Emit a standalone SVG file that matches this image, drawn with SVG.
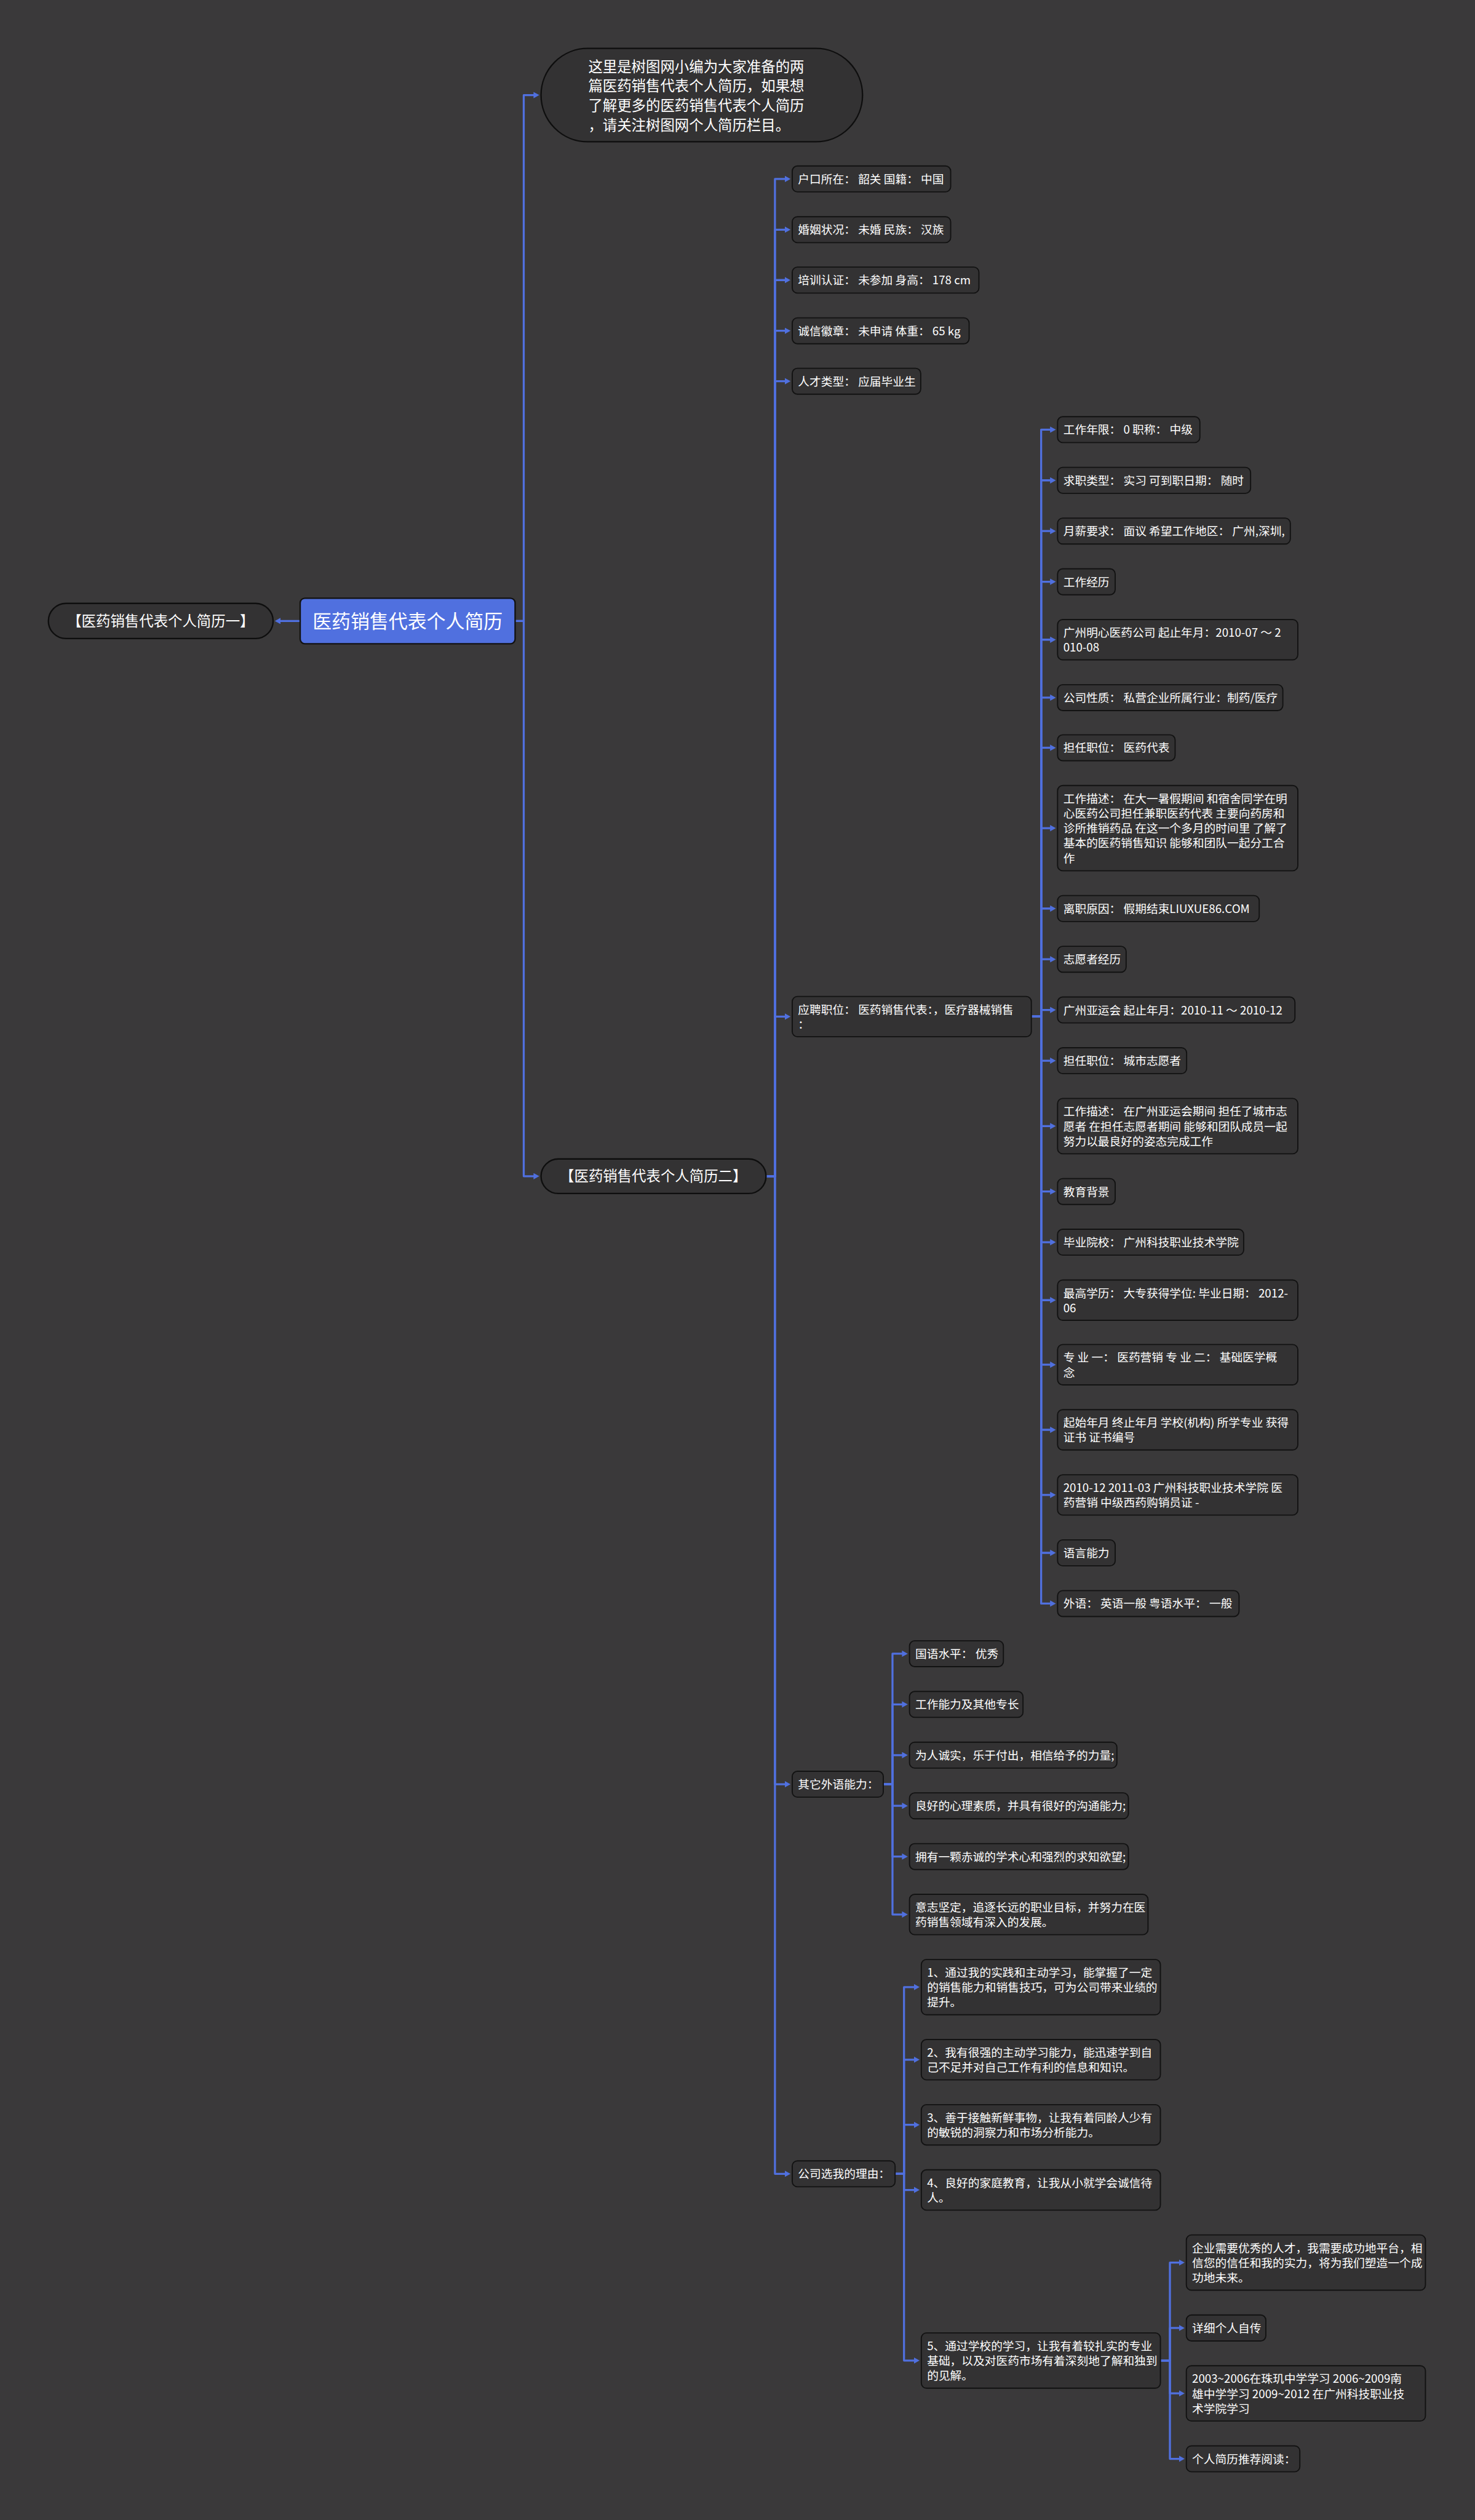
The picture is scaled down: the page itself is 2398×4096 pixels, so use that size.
<svg xmlns="http://www.w3.org/2000/svg" width="2398" height="4096" viewBox="0 0 2398 4096">
<defs>
<style>
.bg{fill:#3a393a}
.n{fill:#333233;stroke:#121212;stroke-width:2}
.r{fill:#5070df;stroke:#121212;stroke-width:2.5}
.p{fill:#333233;stroke:#0e0e0e;stroke-width:2.5}
.t{font-family:"Noto Sans CJK SC","Noto Sans CJK JP","DejaVu Sans",sans-serif;font-size:20px;fill:#ffffff}
.t25{font-size:25px}
.t33{font-size:33px}
.m{text-anchor:middle}
.c{fill:none;stroke:#5070df;stroke-width:3.5;stroke-linejoin:round;marker-end:url(#ah)}
</style>
<marker id="ah" markerUnits="userSpaceOnUse" viewBox="0 0 10 11" markerWidth="10" markerHeight="11" refX="4" refY="5.5" orient="auto">
<path d="M0,0 L10,5.5 L0,11 Z" fill="#5070df"/>
</marker>
</defs>
<rect class="bg" x="0" y="0" width="2398" height="4096"/>
<g transform="scale(0.93672)">

<g id="connectors">
<path class="c" d="M521,1077.5 H483"/>
<path class="c" d="M894,1077.5 H909 V165 H930"/>
<path class="c" d="M894,1077.5 H909 V2041 H930"/>

<path class="c" d="M1329.5,2041 H1345 V310.5 H1366"/>
<path class="c" d="M1329.5,2041 H1345 V398.5 H1366"/>
<path class="c" d="M1329.5,2041 H1345 V486 H1366"/>
<path class="c" d="M1329.5,2041 H1345 V574 H1366"/>
<path class="c" d="M1329.5,2041 H1345 V661.5 H1366"/>
<path class="c" d="M1329.5,2041 H1345 V1764 H1366"/>
<path class="c" d="M1329.5,2041 H1345 V3096 H1366"/>
<path class="c" d="M1329.5,2041 H1345 V3772 H1366"/>

<path class="c" d="M1790,1764 H1807 V745.5 H1826.5"/>
<path class="c" d="M1790,1764 H1807 V833.5 H1826.5"/>
<path class="c" d="M1790,1764 H1807 V921.5 H1826.5"/>
<path class="c" d="M1790,1764 H1807 V1009.5 H1826.5"/>
<path class="c" d="M1790,1764 H1807 V1110 H1826.5"/>
<path class="c" d="M1790,1764 H1807 V1210.5 H1826.5"/>
<path class="c" d="M1790,1764 H1807 V1297.5 H1826.5"/>
<path class="c" d="M1790,1764 H1807 V1437 H1826.5"/>
<path class="c" d="M1790,1764 H1807 V1576.5 H1826.5"/>
<path class="c" d="M1790,1764 H1807 V1664.5 H1826.5"/>
<path class="c" d="M1790,1764 H1807 V1752.5 H1826.5"/>
<path class="c" d="M1790,1764 H1807 V1840.5 H1826.5"/>
<path class="c" d="M1790,1764 H1807 V1954 H1826.5"/>
<path class="c" d="M1790,1764 H1807 V2067.5 H1826.5"/>
<path class="c" d="M1790,1764 H1807 V2155.5 H1826.5"/>
<path class="c" d="M1790,1764 H1807 V2256 H1826.5"/>
<path class="c" d="M1790,1764 H1807 V2368 H1826.5"/>
<path class="c" d="M1790,1764 H1807 V2481 H1826.5"/>
<path class="c" d="M1790,1764 H1807 V2594 H1826.5"/>
<path class="c" d="M1790,1764 H1807 V2694.5 H1826.5"/>
<path class="c" d="M1790,1764 H1807 V2782.5 H1826.5"/>

<path class="c" d="M1533,3096 H1549 V2869.5 H1569.5"/>
<path class="c" d="M1533,3096 H1549 V2957.5 H1569.5"/>
<path class="c" d="M1533,3096 H1549 V3045.5 H1569.5"/>
<path class="c" d="M1533,3096 H1549 V3133.5 H1569.5"/>
<path class="c" d="M1533,3096 H1549 V3221.5 H1569.5"/>
<path class="c" d="M1533,3096 H1549 V3322 H1569.5"/>

<path class="c" d="M1553.5,3772 H1569 V3448 H1590"/>
<path class="c" d="M1553.5,3772 H1569 V3574 H1590"/>
<path class="c" d="M1553.5,3772 H1569 V3687 H1590"/>
<path class="c" d="M1553.5,3772 H1569 V3800 H1590"/>
<path class="c" d="M1553.5,3772 H1569 V4096 H1590"/>

<path class="c" d="M2014,4096 H2030.5 V3926 H2050"/>
<path class="c" d="M2014,4096 H2030.5 V4039.5 H2050"/>
<path class="c" d="M2014,4096 H2030.5 V4153 H2050"/>
<path class="c" d="M2014,4096 H2030.5 V4266.5 H2050"/>
</g>

<g id="root">
<rect class="r" x="521" y="1038" width="373" height="79" rx="8"/>
<text class="t t33 m" x="707.5" y="1090">医药销售代表个人简历</text>
</g>

<g id="resume-one">
<rect class="p" x="84" y="1047" width="390" height="61" rx="30.5"/>
<text class="t t25 m" x="279" y="1086.5">【医药销售代表个人简历一】</text>
</g>

<g id="intro">
<rect class="p" x="939" y="84" width="558" height="162" rx="81"/>
<text class="t t25" x="1021" y="124.5">这里是树图网小编为大家准备的两</text>
<text class="t t25" x="1021" y="158.5">篇医药销售代表个人简历，如果想</text>
<text class="t t25" x="1021" y="192.5">了解更多的医药销售代表个人简历</text>
<text class="t t25" x="1021" y="226.5">，请关注树图网个人简历栏目。</text>
</g>

<g id="resume-two">
<rect class="p" x="939" y="2011" width="390.5" height="60" rx="30"/>
<text class="t t25 m" x="1134" y="2050">【医药销售代表个人简历二】</text>
</g>

<g id="l2-hukou"><rect class="n" x="1375" y="288" width="275" height="45" rx="9"/><text class="t" x="1385" y="318">户口所在： 韶关 国籍： 中国</text></g>
<g id="l2-hunyin"><rect class="n" x="1375" y="376" width="275" height="45" rx="9"/><text class="t" x="1385" y="406">婚姻状况： 未婚 民族： 汉族</text></g>
<g id="l2-peixun"><rect class="n" x="1375" y="463.5" width="324" height="45" rx="9"/><text class="t" x="1385" y="493.5">培训认证： 未参加 身高： 178 cm</text></g>
<g id="l2-chengxin"><rect class="n" x="1375" y="551.5" width="307" height="45" rx="9"/><text class="t" x="1385" y="581.5">诚信徽章： 未申请 体重： 65 kg</text></g>
<g id="l2-rencai"><rect class="n" x="1375" y="639" width="223" height="45" rx="9"/><text class="t" x="1385" y="669">人才类型： 应届毕业生</text></g>
<g id="l2-yingpin"><rect class="n" x="1375" y="1729" width="415" height="70" rx="9"/><text class="t" x="1385" y="1759">应聘职位： 医药销售代表：，医疗器械销售</text><text class="t" x="1385" y="1784.8">：</text></g>
<g id="l2-qita"><rect class="n" x="1375" y="3073.5" width="158" height="45" rx="9"/><text class="t" x="1385" y="3103.5">其它外语能力：</text></g>
<g id="l2-liyou"><rect class="n" x="1375" y="3749.5" width="178.5" height="45" rx="9"/><text class="t" x="1385" y="3779.5">公司选我的理由：</text></g>

<g id="l3-01"><rect class="n" x="1835.5" y="723" width="247" height="45" rx="9"/><text class="t" x="1845.5" y="753">工作年限： 0 职称： 中级</text></g>
<g id="l3-02"><rect class="n" x="1835.5" y="811" width="335" height="45" rx="9"/><text class="t" x="1845.5" y="841">求职类型： 实习 可到职日期： 随时</text></g>
<g id="l3-03"><rect class="n" x="1835.5" y="899" width="404" height="45" rx="9"/><text class="t" x="1845.5" y="929">月薪要求： 面议 希望工作地区： 广州,深圳,</text></g>
<g id="l3-04"><rect class="n" x="1835.5" y="987" width="100" height="45" rx="9"/><text class="t" x="1845.5" y="1017">工作经历</text></g>
<g id="l3-05"><rect class="n" x="1835.5" y="1075" width="417" height="70" rx="9"/><text class="t" x="1845.5" y="1105">广州明心医药公司 起止年月：2010-07 ～ 2</text><text class="t" x="1845.5" y="1130.8">010-08</text></g>
<g id="l3-06"><rect class="n" x="1835.5" y="1188" width="391" height="45" rx="9"/><text class="t" x="1845.5" y="1218">公司性质： 私营企业所属行业：制药/医疗</text></g>
<g id="l3-07"><rect class="n" x="1835.5" y="1275" width="204" height="45" rx="9"/><text class="t" x="1845.5" y="1305">担任职位： 医药代表</text></g>
<g id="l3-08"><rect class="n" x="1835.5" y="1363" width="417" height="148" rx="9"/>
<text class="t" x="1845.5" y="1393">工作描述： 在大一暑假期间 和宿舍同学在明</text>
<text class="t" x="1845.5" y="1418.8">心医药公司担任兼职医药代表 主要向药房和</text>
<text class="t" x="1845.5" y="1444.6">诊所推销药品 在这一个多月的时间里 了解了</text>
<text class="t" x="1845.5" y="1470.4">基本的医药销售知识 能够和团队一起分工合</text>
<text class="t" x="1845.5" y="1496.2">作</text></g>
<g id="l3-09"><rect class="n" x="1835.5" y="1554" width="350" height="45" rx="9"/><text class="t" x="1845.5" y="1584">离职原因： 假期结束LIUXUE86.COM</text></g>
<g id="l3-10"><rect class="n" x="1835.5" y="1642" width="119" height="45" rx="9"/><text class="t" x="1845.5" y="1672">志愿者经历</text></g>
<g id="l3-11"><rect class="n" x="1835.5" y="1730" width="412" height="45" rx="9"/><text class="t" x="1845.5" y="1760">广州亚运会 起止年月：2010-11 ～ 2010-12</text></g>
<g id="l3-12"><rect class="n" x="1835.5" y="1818" width="224" height="45" rx="9"/><text class="t" x="1845.5" y="1848">担任职位： 城市志愿者</text></g>
<g id="l3-13"><rect class="n" x="1835.5" y="1906" width="417" height="96" rx="9"/>
<text class="t" x="1845.5" y="1936">工作描述： 在广州亚运会期间 担任了城市志</text>
<text class="t" x="1845.5" y="1961.8">愿者 在担任志愿者期间 能够和团队成员一起</text>
<text class="t" x="1845.5" y="1987.6">努力以最良好的姿态完成工作</text></g>
<g id="l3-14"><rect class="n" x="1835.5" y="2045" width="100" height="45" rx="9"/><text class="t" x="1845.5" y="2075">教育背景</text></g>
<g id="l3-15"><rect class="n" x="1835.5" y="2133" width="323" height="45" rx="9"/><text class="t" x="1845.5" y="2163">毕业院校： 广州科技职业技术学院</text></g>
<g id="l3-16"><rect class="n" x="1835.5" y="2221" width="417" height="70" rx="9"/><text class="t" x="1845.5" y="2251">最高学历： 大专获得学位: 毕业日期： 2012-</text><text class="t" x="1845.5" y="2276.8">06</text></g>
<g id="l3-17"><rect class="n" x="1835.5" y="2333" width="417" height="70" rx="9"/><text class="t" x="1845.5" y="2363">专 业 一： 医药营销 专 业 二： 基础医学概</text><text class="t" x="1845.5" y="2388.8">念</text></g>
<g id="l3-18"><rect class="n" x="1835.5" y="2446" width="417" height="70" rx="9"/><text class="t" x="1845.5" y="2476">起始年月 终止年月 学校(机构) 所学专业 获得</text><text class="t" x="1845.5" y="2501.8">证书 证书编号</text></g>
<g id="l3-19"><rect class="n" x="1835.5" y="2559" width="417" height="70" rx="9"/><text class="t" x="1845.5" y="2589">2010-12 2011-03 广州科技职业技术学院 医</text><text class="t" x="1845.5" y="2614.8">药营销 中级西药购销员证 -</text></g>
<g id="l3-20"><rect class="n" x="1835.5" y="2672" width="100" height="45" rx="9"/><text class="t" x="1845.5" y="2702">语言能力</text></g>
<g id="l3-21"><rect class="n" x="1835.5" y="2760" width="315" height="45" rx="9"/><text class="t" x="1845.5" y="2790">外语： 英语一般 粤语水平： 一般</text></g>

<g id="qt-1"><rect class="n" x="1578.5" y="2847" width="163" height="45" rx="9"/><text class="t" x="1588.5" y="2877">国语水平： 优秀</text></g>
<g id="qt-2"><rect class="n" x="1578.5" y="2935" width="197" height="45" rx="9"/><text class="t" x="1588.5" y="2965">工作能力及其他专长</text></g>
<g id="qt-3"><rect class="n" x="1578.5" y="3023" width="360" height="45" rx="9"/><text class="t" x="1588.5" y="3053">为人诚实，乐于付出，相信给予的力量;</text></g>
<g id="qt-4"><rect class="n" x="1578.5" y="3111" width="380" height="45" rx="9"/><text class="t" x="1588.5" y="3141">良好的心理素质，并具有很好的沟通能力;</text></g>
<g id="qt-5"><rect class="n" x="1578.5" y="3199" width="380" height="45" rx="9"/><text class="t" x="1588.5" y="3229">拥有一颗赤诚的学术心和强烈的求知欲望;</text></g>
<g id="qt-6"><rect class="n" x="1578.5" y="3287" width="414" height="70" rx="9"/><text class="t" x="1588.5" y="3317">意志坚定，追逐长远的职业目标，并努力在医</text><text class="t" x="1588.5" y="3342.8">药销售领域有深入的发展。</text></g>

<g id="ly-1"><rect class="n" x="1599" y="3400" width="415" height="96" rx="9"/><text class="t" x="1609" y="3430">1、通过我的实践和主动学习，能掌握了一定</text><text class="t" x="1609" y="3455.8">的销售能力和销售技巧，可为公司带来业绩的</text><text class="t" x="1609" y="3481.6">提升。</text></g>
<g id="ly-2"><rect class="n" x="1599" y="3539" width="415" height="70" rx="9"/><text class="t" x="1609" y="3569">2、我有很强的主动学习能力，能迅速学到自</text><text class="t" x="1609" y="3594.8">己不足并对自己工作有利的信息和知识。</text></g>
<g id="ly-3"><rect class="n" x="1599" y="3652" width="415" height="70" rx="9"/><text class="t" x="1609" y="3682">3、善于接触新鲜事物，让我有着同龄人少有</text><text class="t" x="1609" y="3707.8">的敏锐的洞察力和市场分析能力。</text></g>
<g id="ly-4"><rect class="n" x="1599" y="3765" width="415" height="70" rx="9"/><text class="t" x="1609" y="3795">4、良好的家庭教育，让我从小就学会诚信待</text><text class="t" x="1609" y="3820.8">人。</text></g>
<g id="ly-5"><rect class="n" x="1599" y="4048" width="415" height="96" rx="9"/><text class="t" x="1609" y="4078">5、通过学校的学习，让我有着较扎实的专业</text><text class="t" x="1609" y="4103.8">基础，以及对医药市场有着深刻地了解和独到</text><text class="t" x="1609" y="4129.6">的见解。</text></g>

<g id="l5-1"><rect class="n" x="2059" y="3878" width="415" height="96" rx="9"/><text class="t" x="2069" y="3908">企业需要优秀的人才，我需要成功地平台，相</text><text class="t" x="2069" y="3933.8">信您的信任和我的实力，将为我们塑造一个成</text><text class="t" x="2069" y="3959.6">功地未来。</text></g>
<g id="l5-2"><rect class="n" x="2059" y="4017" width="138" height="45" rx="9"/><text class="t" x="2069" y="4047">详细个人自传</text></g>
<g id="l5-3"><rect class="n" x="2059" y="4105" width="415" height="96" rx="9"/><text class="t" x="2069" y="4135">2003~2006在珠玑中学学习 2006~2009南</text><text class="t" x="2069" y="4160.8">雄中学学习 2009~2012 在广州科技职业技</text><text class="t" x="2069" y="4186.6">术学院学习</text></g>
<g id="l5-4"><rect class="n" x="2059" y="4244" width="197" height="45" rx="9"/><text class="t" x="2069" y="4274">个人简历推荐阅读：</text></g>

</g>
</svg>
